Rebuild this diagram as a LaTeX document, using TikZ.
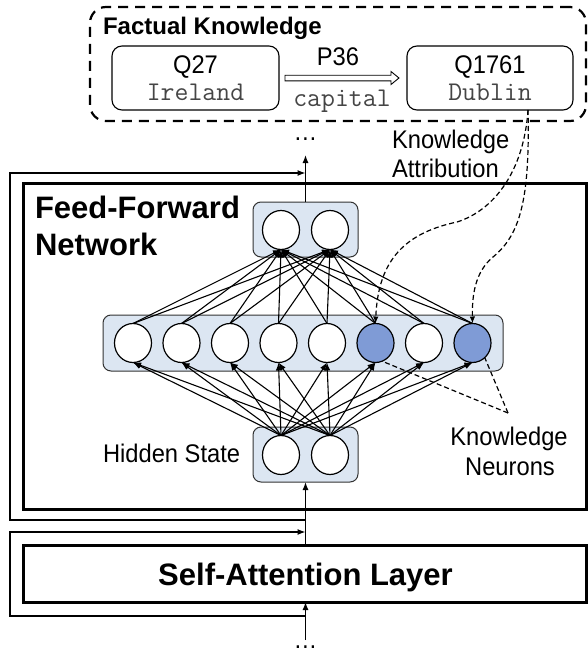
\documentclass[tikz,border=0pt]{standalone}
\usepackage{fontspec}
\setmainfont{Liberation Sans}
\newfontfamily\tallsans[FakeStretch=0.93]{Liberation Sans}
\usetikzlibrary{arrows.meta,calc,shapes.geometric}
\definecolor{boxblue}{HTML}{DCE6F2}
\definecolor{neublue}{HTML}{7F9BD6}
\definecolor{monogray}{HTML}{454545}
\begin{document}
\begin{tikzpicture}[x=1pt,y=-1pt,
  txt/.style={font=\fontsize{25.5}{28}\selectfont\tallsans, inner sep=0pt, outer sep=0pt},
  mono/.style={font=\fontsize{27}{30}\selectfont\ttfamily, text=monogray, inner sep=0pt, outer sep=0pt},
  title/.style={font=\fontsize{31}{36}\selectfont\bfseries, inner sep=0pt, outer sep=0pt},
  subtitle/.style={font=\fontsize{24}{28}\selectfont\bfseries, inner sep=0pt, outer sep=0pt},
  kbox/.style={draw, rounded corners=10pt, line width=1.1pt, minimum height=64pt, inner sep=0pt, outer sep=0pt},
  bluebox/.style={draw=black!80, fill=boxblue, rounded corners=8pt, line width=1pt, inner sep=0pt, outer sep=0pt},
  neuron/.style={draw, ellipse, fill=white, line width=1.2pt, minimum width=37pt, minimum height=39pt, inner sep=0pt, outer sep=0pt},
  kneuron/.style={neuron, fill=neublue},
  conn/.style={line width=1.1pt, -{Latex[length=8pt,width=6pt]}},
  frame/.style={draw, line width=3pt, inner sep=0pt, outer sep=0pt},
  res/.style={line width=1.2pt},
  attr/.style={dash pattern=on 5pt off 3pt, line width=1.2pt},
  tip/.style={-{Latex[length=8pt,width=6pt]}}
]
\useasboundingbox (0,0) rectangle (588,653);

% factual knowledge
\node[draw, line width=2.2pt, dash pattern=on 10pt off 7pt, rounded corners=16pt,
      minimum width=496pt, minimum height=114pt, inner sep=0pt] (fk) at (338,64) {};
\node[subtitle, anchor=base west] (fkt) at (103,34) {Factual Knowledge};
\node[kbox, minimum width=167pt] (q27) at (195.5,78) {};
\node[kbox, minimum width=166pt] (q1761) at (490,78) {};
\node[txt, anchor=base] (q27t) at (195.5,73) {Q27};
\node[mono, anchor=base] (q27m) at (195.5,100) {Ireland};
\node[txt, anchor=base] (q1761t) at (490,73) {Q1761};
\node[mono, anchor=base] (q1761m) at (490,100) {Dublin};
\node[txt, anchor=base] (p36) at (338,65) {P36};
\node[mono, anchor=base] (cap) at (342,106) {capital};
\coordinate (pa) at ($(q27.east)+(6,0)$);
\coordinate (pb) at ($(q1761.west)+(-8,0)$);
\draw[line width=0.9pt, fill=white] ($(pa)+(0,-2.8)$) -- ($(pb)+(-8,-2.8)$) -- ($(pb)+(-8,-6.5)$) -- (pb)
  -- ($(pb)+(-8,6.5)$) -- ($(pb)+(-8,2.8)$) -- ($(pa)+(0,2.8)$) -- cycle;

% frames
\node[frame, minimum width=563pt, minimum height=326pt] (ffn) at (304.5,346) {};
\node[frame, minimum width=563pt, minimum height=57pt] (sa) at (304.5,573.5) {};
\node[title, anchor=base west] (ffnt1) at (35,218) {Feed-Forward};
\node[title, anchor=base west] (ffnt2) at (35,255) {Network};
\node[title, anchor=base] (sat) at (305.5,585) {Self-Attention Layer};

% blue boxes
\node[bluebox, minimum width=105pt, minimum height=55pt] (ubox) at (305.5,229.5) {};
\node[bluebox, minimum width=400pt, minimum height=56pt] (mbox) at (303,343) {};
\node[bluebox, minimum width=105pt, minimum height=55pt] (hbox) at (305.5,454.5) {};

% neurons
\node[neuron] (u1) at (281,230) {};
\node[neuron] (u2) at (330,230) {};
\node[neuron] (h1) at (281,455) {};
\node[neuron] (h2) at (330,455) {};
\foreach \i/\x in {1/133,2/181.5,3/230,4/278.5,5/327,7/424}
  \node[neuron] (m\i) at (\x,343) {};
\node[kneuron] (m6) at (375.5,343) {};
\node[kneuron] (m8) at (472.5,343) {};

% connections
\foreach \i in {1,...,8} {
  \foreach \j in {1,2} {
    \draw[conn] (m\i.north) -- (u\j.south);
    \draw[conn] (h\j.north) -- (m\i.south);
  }
}

% labels
\node[txt, anchor=base west] (hs) at (103,462) {Hidden State};
\node[txt, anchor=base] (kn1) at (509,445) {Knowledge};
\node[txt, anchor=base] (kn2) at (510,475) {Neurons};
\node[txt, anchor=base west] (ka1) at (392,148) {Knowledge};
\node[txt, anchor=base west] (ka2) at (392,177) {Attribution};
\node[txt, anchor=base] (dtop) at (305.5,140) {…};
\node[txt, anchor=base] (dbot) at (305.5,648.5) {…};

% main flow
\coordinate (toptip) at (305.5,155);
\coordinate (botstart) at (305.5,640);
\draw[res, tip] (ubox.north) -- (toptip);
\draw[res, tip] (hbox.south |- sa.north) -- (hbox.south);
\draw[res, tip] (botstart) -- (hbox.south |- sa.south);

% residual loops
\coordinate (l1a) at (305.5,520);
\coordinate (l1b) at (305.5,173);
\coordinate (l2a) at (305.5,616);
\coordinate (l2b) at (305.5,532);
\draw[res, tip] (l1a) -- ++(-295.5,0) |- (l1b);
\draw[res, tip] (l2a) -- ++(-295.5,0) |- (l2b);

% knowledge attribution
\coordinate (attr) at ($(q1761.south)+(38,0)$);
\draw[attr, -{Latex[length=7pt,width=5.5pt]}] (attr) .. controls (524,170) and (495,210) .. (457,222)
   .. controls (400,234) and (378,265) .. (m6.north);
\draw[attr, -{Latex[length=7pt,width=5.5pt]}] (attr) .. controls (530,200) and (520,235) .. (493,257)
   .. controls (475,272) and (472,295) .. (m8.north);

% knowledge neurons pointer
\coordinate (knp) at (508,413);
\draw[attr] (knp) -- (m6.-70);
\draw[attr] (knp) -- (m8.-50);
\end{tikzpicture}
\end{document}
